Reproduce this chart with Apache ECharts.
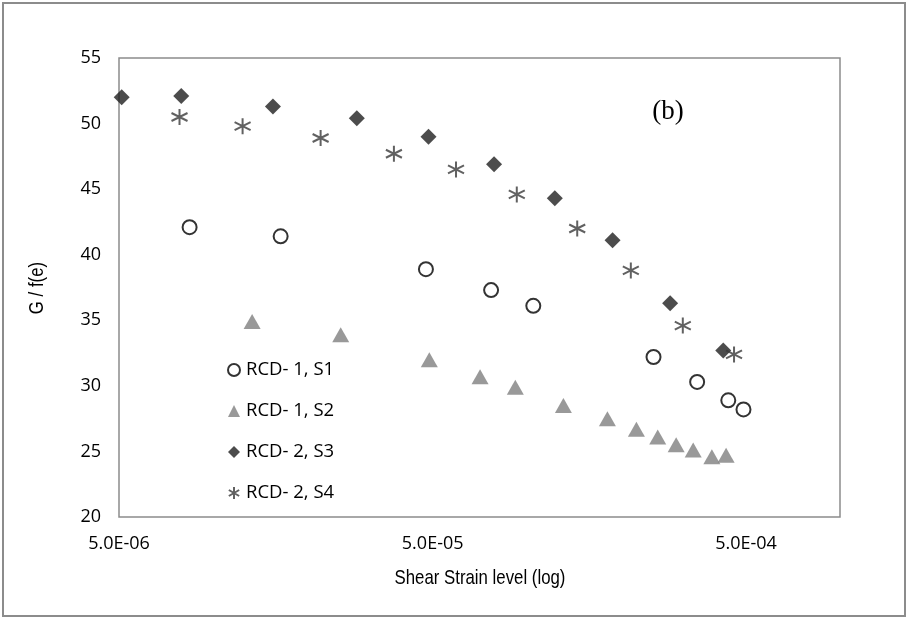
<!DOCTYPE html>
<html>
<head>
<meta charset="utf-8">
<script src="https://cdn.jsdelivr.net/npm/echarts@6/dist/echarts.min.js"></script>
<style>
  html, body { margin: 0; padding: 0; background: #fff; }
  #main { width: 909px; height: 619px; }
</style>
</head>
<body>
<div id="main"></div>
<script>
// strain values (x) and G/f(e) values (y)
var s1X = [8.4e-6, 1.64e-5, 4.77e-5, 7.7e-5, 1.05e-4, 2.54e-4, 3.5e-4, 4.4e-4, 4.92e-4];
var s1Y = [42.1, 41.4, 38.9, 37.3, 36.1, 32.2, 30.3, 28.9, 28.2];
var s2X = [1.33e-5, 2.55e-5, 4.89e-5, 7.1e-5, 9.2e-5, 1.31e-4, 1.81e-4, 2.24e-4, 2.62e-4, 3.0e-4, 3.4e-4, 3.9e-4, 4.33e-4];
var s2Y = [34.9, 33.9, 32.0, 30.7, 29.9, 28.5, 27.5, 26.7, 26.1, 25.5, 25.1, 24.6, 24.7];
var s3X = [5.1e-6, 7.9e-6, 1.55e-5, 2.87e-5, 4.86e-5, 7.87e-5, 1.23e-4, 1.88e-4, 2.87e-4, 4.24e-4];
var s3Y = [52.0, 52.1, 51.3, 50.4, 49.0, 46.9, 44.3, 41.1, 36.3, 32.7];
var s4X = [7.8e-6, 1.24e-5, 2.2e-5, 3.77e-5, 5.95e-5, 9.3e-5, 1.45e-4, 2.15e-4, 3.15e-4, 4.59e-4];
var s4Y = [50.5, 49.8, 48.9, 47.7, 46.5, 44.6, 42.0, 38.8, 34.6, 32.4];
var seriesNames = ['RCD- 1, S1', 'RCD- 1, S2', 'RCD- 2, S3', 'RCD- 2, S4'];
var xTickLabels = ['5.0E-06', '5.0E-05', '5.0E-04'];

function pairs(xs, ys) {
	var out = [];
	for (var i = 0; i < xs.length; i++) out.push([xs[i], ys[i]]);
	return out;
}
// excel style 5.0E-06
function sci(v) {
	var s = v.toExponential(1).toUpperCase();
	var m = s.match(/^(.*)E([+-])(\d+)$/);
	if (!m) return s;
	var e = m[3].length < 2 ? '0' + m[3] : m[3];
	return m[1] + 'E' + (m[2] == '+' ? '+' : '-') + e;
}

var sansFont = '"Open Sans", "Noto Sans", sans-serif';
var narrowFont = '"Liberation Sans", Arial, sans-serif';
var starPath = 'path://M5,0L5,10M0.7,2.5L9.3,7.5M0.7,7.5L9.3,2.5';

var myChart = echarts.init(document.getElementById('main'));
var option = {
	animation: false,
	backgroundColor: '#fff',
	grid: {
		left: 119, right: 69, top: 58, bottom: 102,
		show: true, borderColor: '#8c8c8c', borderWidth: 1.5
	},
	legend: {
		orient: 'vertical',
		left: 222, top: 355,
		itemWidth: 12, itemHeight: 12,
		itemGap: 21,
		textStyle: { fontFamily: sansFont, fontSize: 18.5, color: '#000', lineHeight: 20, padding: [0, 0, 0, 1] },
		data: seriesNames
	},
	xAxis: {
		type: 'log', logBase: 10,
		min: 5e-6, max: 1e-3,
		interval: 1,
		axisLine: { show: false },
		axisTick: { show: false },
		splitLine: { show: false },
		axisLabel: {
			margin: 18, fontFamily: sansFont, fontSize: 18, color: '#000',
			formatter: function (v) {
				var t = sci(v);
				return xTickLabels.indexOf(t) >= 0 ? t : '';
			}
		}
	},
	yAxis: {
		type: 'value',
		min: 20, max: 55, interval: 5,
		axisLine: { show: false },
		axisTick: { show: false },
		splitLine: { show: false },
		axisLabel: { margin: 18, fontFamily: sansFont, fontSize: 18, color: '#000' }
	},
	graphic: [
		{ type: 'rect', shape: { x: 3, y: 3, width: 902, height: 613 },
		  style: { fill: 'none', stroke: '#8c8c8c', lineWidth: 2 }, silent: true },
		{ type: 'text', x: 668, y: 112,
		  style: { text: '(b)', fontFamily: '"Liberation Serif", "Times New Roman", serif', fontSize: 27, fill: '#000', align: 'center', verticalAlign: 'middle' } },
		// axis titles, condensed like Arial Narrow
		{ type: 'text', x: 480, y: 578, scaleX: 0.8,
		  style: { text: 'Shear Strain level (log)', fontFamily: narrowFont, fontSize: 21, fill: '#000', align: 'center', verticalAlign: 'middle' } },
		{ type: 'text', x: 37, y: 288, rotation: Math.PI / 2, scaleX: 0.8,
		  style: { text: 'G / f(e)', fontFamily: narrowFont, fontSize: 21, fill: '#000', align: 'center', verticalAlign: 'middle' } }
	],
	series: [
		{
			name: seriesNames[0], type: 'scatter', symbol: 'circle', symbolSize: 14,
			itemStyle: { color: '#fff', borderColor: '#000', borderWidth: 2 },
			data: pairs(s1X, s1Y)
		},
		{
			name: seriesNames[1], type: 'scatter', symbol: 'triangle', symbolSize: [17, 15],
			itemStyle: { color: '#7f7f7f' },
			data: pairs(s2X, s2Y)
		},
		{
			name: seriesNames[2], type: 'scatter', symbol: 'diamond', symbolSize: [16, 16],
			itemStyle: { color: '#1f1f1f' },
			data: pairs(s3X, s3Y)
		},
		{
			name: seriesNames[3], type: 'scatter', symbol: starPath, symbolSize: 16,
			itemStyle: { color: 'transparent', borderColor: '#3a3a3a', borderWidth: 2 },
			data: pairs(s4X, s4Y)
		}
	]
};
myChart.setOption(option);
</script>
</body>
</html>
